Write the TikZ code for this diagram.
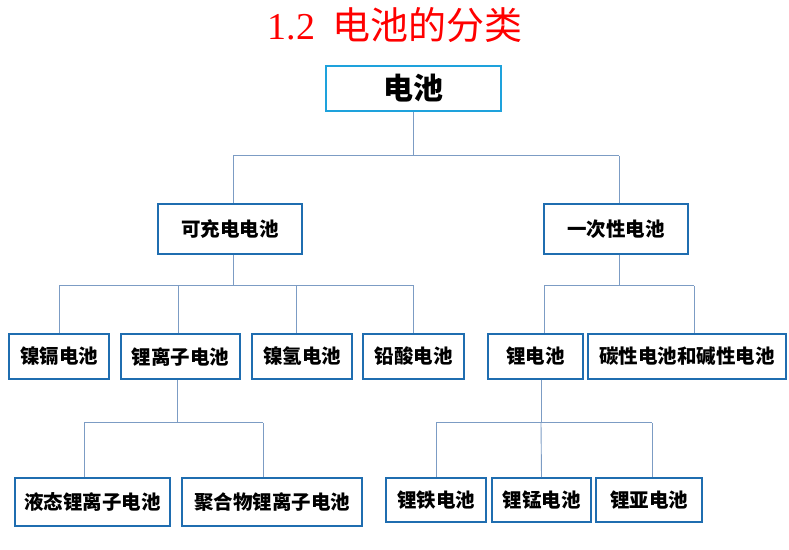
\documentclass[tikz,border=0pt]{standalone}
\usepackage{fontspec}
\setmainfont{Liberation Serif}
\newfontfamily\cjk{Noto Sans CJK SC}
\definecolor{boxblue}{HTML}{1F6DB0}
\definecolor{topblue}{HTML}{1EA2DC}
\definecolor{linecol}{HTML}{7C9CC4}
\definecolor{titlered}{HTML}{FF0000}
\tikzset{
  box/.style={draw=boxblue, line width=1.8pt, fill=white, inner sep=0pt, font=\cjk\bfseries\fontsize{19.5}{22}\selectfont},
  conn/.style={draw=linecol, line width=0.9pt}
}
\begin{document}
\begin{tikzpicture}[x=1pt,y=-1pt]
\useasboundingbox (0,0) rectangle (789,549);
\node[text=titlered, font=\fontsize{38}{42}\selectfont] (title) at (395,25) {1.2\hspace{0.45em}{\cjk 电池的分类}};
\node[box, draw=topblue, minimum width=175pt, minimum height=45pt, font=\cjk\bfseries\fontsize{30}{34}\selectfont] (top) at (413.5,88.5) {电池};
\node[box, minimum width=144pt, minimum height=50pt] (A) at (230,229) {可充电电池};
\node[box, minimum width=144pt, minimum height=50pt] (B) at (616,229) {一次性电池};
\node[box, minimum width=100pt, minimum height=45pt] (nige) at (59,356.5) {镍镉电池};
\node[box, minimum width=119pt, minimum height=45pt] (lion) at (180.5,356.5) {锂离子电池};
\node[box, minimum width=100pt, minimum height=45pt] (niqing) at (302,356.5) {镍氢电池};
\node[box, minimum width=101pt, minimum height=45pt] (qiansuan) at (413.5,356.5) {铅酸电池};
\node[box, minimum width=95pt, minimum height=45pt] (li) at (535.5,356.5) {锂电池};
\node[box, minimum width=198pt, minimum height=45pt] (tan) at (687,356.5) {碳性电池和碱性电池};
\node[box, minimum width=155pt, minimum height=48pt] (yetai) at (92.5,502) {液态锂离子电池};
\node[box, minimum width=180pt, minimum height=48pt] (juhe) at (272,502) {聚合物锂离子电池};
\node[box, minimum width=100pt, minimum height=44pt] (litie) at (436,500) {锂铁电池};
\node[box, minimum width=99pt, minimum height=44pt] (limeng) at (541.5,500) {锂锰电池};
\node[box, minimum width=106pt, minimum height=44pt] (liya) at (649,500) {锂亚电池};
% level 1
\draw[conn] (top.south) -- ++(0,44) coordinate (t1);
\draw[conn] ([xshift=3pt]A.north |- t1) -- ([xshift=3pt]B.north |- t1);
\draw[conn] ([xshift=3pt]A.north |- t1) -- ([xshift=3pt]A.north);
\draw[conn] ([xshift=3pt]B.north |- t1) -- ([xshift=3pt]B.north);
% level 2 left
\draw[conn] ([xshift=3pt]A.south) -- ++(0,31) coordinate (a1);
\draw[conn] (a1 -| nige.north) -- (a1 -| qiansuan.north);
\draw[conn] (a1 -| nige.north) -- (nige.north);
\draw[conn] ([xshift=-2.5pt]lion.north |- a1) -- ([xshift=-2.5pt]lion.north);
\draw[conn] ([xshift=-6pt]niqing.north |- a1) -- ([xshift=-6pt]niqing.north);
\draw[conn] (a1 -| qiansuan.north) -- (qiansuan.north);
% level 2 right
\draw[conn] ([xshift=3pt]B.south) -- ++(0,31) coordinate (b1);
\draw[conn] ([xshift=8.5pt]li.north |- b1) -- ([xshift=7pt]tan.north |- b1);
\draw[conn] ([xshift=8.5pt]li.north |- b1) -- ([xshift=8.5pt]li.north);
\draw[conn] ([xshift=7pt]tan.north |- b1) -- ([xshift=7pt]tan.north);
% level 3 left
\draw[conn] ([xshift=-3pt]lion.south) -- ++(0,43) coordinate (c1);
\draw[conn] ([xshift=-8.5pt]yetai.north |- c1) -- ([xshift=-9pt]juhe.north |- c1);
\draw[conn] ([xshift=-8.5pt]yetai.north |- c1) -- ([xshift=-8.5pt]yetai.north);
\draw[conn] ([xshift=-9pt]juhe.north |- c1) -- ([xshift=-9pt]juhe.north);
% level 3 right
\draw[conn] ([xshift=5.5pt]li.south) -- ++(0,43) coordinate (d1);
\draw[conn] (d1 -| litie.north) -- ([xshift=3pt]liya.north |- d1);
\draw[conn] (d1 -| litie.north) -- (litie.north);
\draw[conn] (d1) -- (limeng.north);
\draw[conn] ([xshift=3pt]liya.north |- d1) -- ([xshift=3pt]liya.north);
\end{tikzpicture}
\end{document}
